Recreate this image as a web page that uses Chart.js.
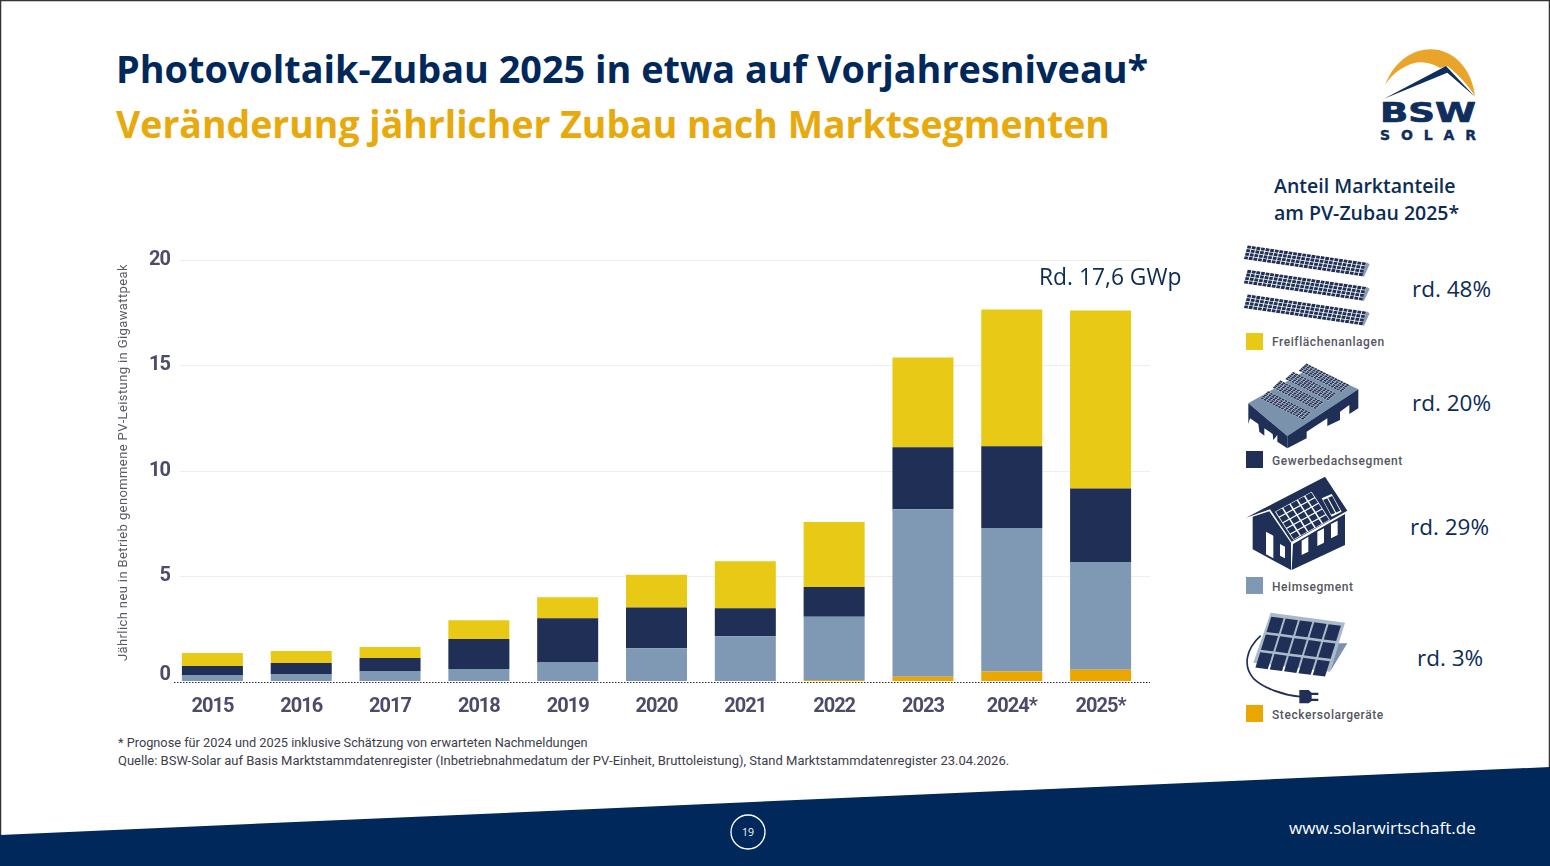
<!DOCTYPE html>
<html lang="de">
<head>
<meta charset="utf-8">
<title>Photovoltaik-Zubau</title>
<script src="https://cdn.jsdelivr.net/npm/chart.js@4"></script>
<style>
  html, body { margin: 0; padding: 0; background: #fff; }
  #slide { position: relative; width: 1550px; height: 866px; overflow: hidden; background: #fff; font-family: "Open Sans", sans-serif; }
  #art { position: absolute; left: 0; top: 0; }
  #chart { position: absolute; left: 100px; top: 240px; }
  .t { position: absolute; white-space: nowrap; line-height: 1; }
  .title { left: 116px; font-weight: 700; }
  .pct { font-size: 22.5px; color: #0b2c55; }
  .legend { left: 1272px; font: 500 12px Roboto, sans-serif; color: #55555f; letter-spacing: .57px; }
  .note { left: 118px; font: 13px Roboto, sans-serif; color: #3d3d4a; }
  .swatch { position: absolute; left: 1246px; width: 17px; height: 17px; }
</style>
</head>
<body>
<div id="slide">
  <svg id="art" width="1550" height="866" viewBox="0 0 1550 866">
    <rect x="0.5" y="0.5" width="1549" height="900" fill="none" stroke="#333" stroke-width="1.5"/>
    <polygon points="0,835 1550,767 1550,866 0,866" fill="#00285a"/>
    <circle cx="748" cy="832" r="17" fill="none" stroke="#fff" stroke-width="1.3"/>
    <text x="748" y="836" font-family="Open Sans" font-size="10.5" fill="#fff" text-anchor="middle">19</text>

    <!-- logo -->
    <g transform="translate(1360 40) scale(.3333)">
      <path d="M75,135 C105,60 160,28 212,28 C280,28 335,85 345,168 C320,130 290,100 262,78 L240,84 C215,68 185,62 160,70 C125,80 95,105 75,135 Z" fill="#e9a52a"/>
      <path d="M72,176 L258,78 L345,170 L262,98 Z" fill="#0f2e5c"/>
    </g>
    <text x="1380" y="122" font-family="DejaVu Sans" font-weight="700" font-size="26" fill="#0f2e5c" stroke="#0f2e5c" stroke-width=".7" textLength="96" lengthAdjust="spacingAndGlyphs">BSW</text>
    <text x="1380" y="140" font-family="DejaVu Sans" font-weight="700" font-size="14" fill="#0f2e5c" stroke="#0f2e5c" stroke-width=".4" textLength="96">SOLAR</text>

    <!-- building -->
    <g transform="translate(1230 230) scale(.3333)">
      <polygon points="55,520 245,412 385,478 172,618" fill="#7b92ad"/>
      <polygon points="55,520 172,618 172,655 142,635 142,615 130,630 128,612 103,595 103,617 88,605 85,582 60,565 55,582" fill="#1f2f55"/>
      <polygon points="172,618 385,478 385,535 358,552 358,525 330,545 330,570 292,588 292,565 230,605 230,625 172,655" fill="#1f2f55"/>
      <g id="roofPanels"></g>
      <g id="fieldPanels"></g>
    </g>

    <!-- house -->
    <g transform="translate(1230 470) scale(.3333)">
      <polygon points="48,143 285,20 352,122 185,215 120,118" fill="#1f2f55"/>
      <polygon points="68,140 118,124 183,218 183,300 68,238" fill="#1f2f55"/>
      <polygon points="189,222 345,132 345,225 185,300" fill="#1f2f55"/>
      <g id="housePanels"></g>
      <g fill="#fff">
        <polygon points="108,185 130,197 130,265 108,253"/>
        <polygon points="150,222 165,230 165,265 150,257"/>
        <polygon points="215,212 235,200 235,245 215,255"/>
        <polygon points="262,185 282,175 282,218 262,228"/>
        <polygon points="303,162 323,152 323,195 303,205"/>
      </g>
    </g>

    <!-- balcony module -->
    <g transform="translate(1230 470) scale(.3333)">
      <polygon points="325,520 352,520 300,605" fill="#7b92ad"/>
      <polygon points="122,428 345,458 300,605 70,578" fill="#a9bacb"/>
      <g id="plugPanels"></g>
      <path d="M92,497 C45,540 40,590 70,625 C100,655 160,675 210,680" fill="none" stroke="#1f2f55" stroke-width="5"/>
      <path d="M208,660 L236,660 L245,668 L265,668 L265,675 L245,675 L245,686 L265,686 L265,693 L245,693 L236,700 L208,700 Z" fill="#1f2f55"/>
    </g>
  </svg>

  <div class="t title" style="top:50px;font-size:37.8px;color:#00285a">Photovoltaik-Zubau 2025 in etwa auf Vorjahresniveau*</div>
  <div class="t title" style="top:105px;font-size:37.4px;color:#e8a90c">Veränderung jährlicher Zubau nach Marktsegmenten</div>

  <canvas id="chart" width="1060" height="480"></canvas>

  <div class="t" style="left:1039px;top:266px;font-size:22.8px;color:#0b2c55">Rd. 17,6 GWp</div>

  <div class="t" style="left:1274px;top:176px;font-size:19.5px;font-weight:600;color:#0b2c55">Anteil Marktanteile</div>
  <div class="t" style="left:1274px;top:203px;font-size:19.5px;font-weight:600;color:#0b2c55">am PV-Zubau 2025*</div>

  <div class="t pct" style="left:1412px;top:278px">rd. 48%</div>
  <div class="t pct" style="left:1412px;top:392px">rd. 20%</div>
  <div class="t pct" style="left:1410px;top:516px">rd. 29%</div>
  <div class="t pct" style="left:1417px;top:647px">rd. 3%</div>

  <div class="swatch" style="top:333px;background:#e8ca16"></div>
  <div class="t legend" style="top:335px">Freiflächenanlagen</div>
  <div class="swatch" style="top:451px;background:#1f2f55"></div>
  <div class="t legend" style="top:454px">Gewerbedachsegment</div>
  <div class="swatch" style="top:577px;background:#7f99b5"></div>
  <div class="t legend" style="top:580px">Heimsegment</div>
  <div class="swatch" style="top:705px;background:#eba600"></div>
  <div class="t legend" style="top:708px">Steckersolargeräte</div>

  <div class="t note" style="top:735px;font-size:12.75px">* Prognose für 2024 und 2025 inklusive Schätzung von erwarteten Nachmeldungen</div>
  <div class="t note" style="top:753px">Quelle: BSW-Solar auf Basis Marktstammdatenregister (Inbetriebnahmedatum der PV-Einheit, Bruttoleistung), Stand Marktstammdatenregister 23.04.2026.</div>

  <div class="t" style="left:1289px;top:819px;font-size:17.1px;color:#fff">www.solarwirtschaft.de</div>
</div>

<script>
const categories = ['2015', '2016', '2017', '2018', '2019', '2020', '2021', '2022', '2023', '2024*', '2025*'];
const stecker   = [0, 0, 0, 0, 0, 0, 0, 0.05, 0.2, 0.45, 0.53];
const heim      = [0.28, 0.33, 0.47, 0.57, 0.9, 1.55, 2.13, 3.0, 7.96, 6.8, 5.12];
const gewerbe   = [0.43, 0.52, 0.62, 1.42, 2.08, 1.94, 1.33, 1.42, 2.94, 3.9, 3.5];
const freiflaeche = [0.62, 0.57, 0.52, 0.9, 1.0, 1.56, 2.23, 3.08, 4.27, 6.5, 8.45];
const yAxisTitle = 'Jährlich neu in Betrieb genommene PV-Leistung in Gigawattpeak';

// panel grid helper for the icons
function panelGrid(parent, o, u, v, cols, rows, gap, fill) {
  const ns = 'http://www.w3.org/2000/svg';
  for (let c = 0; c < cols; c++) {
    for (let r = 0; r < rows; r++) {
      const pt = (a, b) => {
        const x = o[0] + u[0] * (c + a) / cols + v[0] * (r + b) / rows;
        const y = o[1] + u[1] * (c + a) / cols + v[1] * (r + b) / rows;
        return x.toFixed(1) + ',' + y.toFixed(1);
      };
      const p = document.createElementNS(ns, 'polygon');
      p.setAttribute('points', [pt(gap, gap), pt(1 - gap, gap), pt(1 - gap, 1 - gap), pt(gap, 1 - gap)].join(' '));
      p.setAttribute('fill', fill);
      parent.appendChild(p);
    }
  }
}

const navy = '#1f2f55';
const field = document.getElementById('fieldPanels');
[[52, 45], [52, 118], [52, 192]].forEach(o => {
  const edge = document.createElementNS('http://www.w3.org/2000/svg', 'polygon');
  edge.setAttribute('points', `${o[0] + 358},${o[1] + 52} ${o[0] + 367},${o[1] + 58} ${o[0] + 350},${o[1] + 95} ${o[0] + 343},${o[1] + 93}`);
  edge.setAttribute('fill', '#8b9db5');
  field.appendChild(edge);
  panelGrid(field, o, [358, 52], [-12, 43], 26, 4, .1, navy);
});
const roof = document.getElementById('roofPanels');
[[90, 505], [127, 473], [165, 447], [205, 422]].forEach(o => {
  const bg = document.createElementNS('http://www.w3.org/2000/svg', 'polygon');
  bg.setAttribute('points', `${o[0]},${o[1]} ${o[0] + 130},${o[1] + 65} ${o[0] + 154},${o[1] + 43} ${o[0] + 24},${o[1] - 22}`);
  bg.setAttribute('fill', '#dfe5ec');
  roof.appendChild(bg);
  panelGrid(roof, o, [130, 65], [24, -22], 15, 5, .1, navy);
});
const house = document.getElementById('housePanels');
const houseBg = document.createElementNS('http://www.w3.org/2000/svg', 'polygon');
houseBg.setAttribute('points', '135,125 245,65 300,150 190,210');
houseBg.setAttribute('fill', '#fff');
house.appendChild(houseBg);
panelGrid(house, [135, 125], [110, -60], [55, 85], 5, 5, .09, navy);
const houseBg2 = document.createElementNS('http://www.w3.org/2000/svg', 'polygon');
houseBg2.setAttribute('points', '275,85 305,72 335,125 305,140');
houseBg2.setAttribute('fill', '#fff');
house.appendChild(houseBg2);
panelGrid(house, [275, 85], [30, -13], [30, 55], 2, 1, .1, navy);
panelGrid(document.getElementById('plugPanels'), [122, 436], [215, 28], [-50, 160], 5, 3, .07, navy);

// light rules that run past the bars on both sides, dotted base line on top
const chartLines = {
  id: 'chartLines',
  afterLayout(chart) {
    // y labels overhang the plot by a couple of pixels
    chart.scales.y.right += 2;
  },
  beforeDraw(chart) {
    // tick numerals are set tight
    chart.ctx.letterSpacing = '-1px';
  },
  beforeDatasetsDraw(chart) {
    const { ctx, scales: { y } } = chart;
    ctx.letterSpacing = '0px';
    ctx.save();
    ctx.strokeStyle = '#eeeeee';
    ctx.lineWidth = 1;
    y.ticks.forEach(tick => {
      if (tick.value === 0) return;
      const py = Math.round(y.getPixelForValue(tick.value)) + 0.5;
      ctx.beginPath();
      ctx.moveTo(80, py);
      ctx.lineTo(1050, py);
      ctx.stroke();
    });
    ctx.restore();
  },
  afterDatasetsDraw(chart) {
    const { ctx, scales: { y } } = chart;
    const py = Math.round(y.getPixelForValue(0)) + 1.5;
    ctx.save();
    ctx.strokeStyle = '#2b2b3a';
    ctx.lineWidth = 1.2;
    ctx.setLineDash([1.5, 1.5]);
    ctx.beginPath();
    ctx.moveTo(74, py);
    ctx.lineTo(1050, py);
    ctx.stroke();
    ctx.setLineDash([]);
    // axis title sits a little above the middle of the scale
    ctx.translate(24, 222.5);
    ctx.rotate(-Math.PI / 2);
    ctx.font = '13px Roboto';
    ctx.letterSpacing = '0.39px';
    ctx.fillStyle = '#5a5a66';
    ctx.textAlign = 'center';
    ctx.textBaseline = 'middle';
    ctx.fillText(yAxisTitle, 0, 0);
    ctx.restore();
  }
};

const tickColor = '#4c4c6a';
const tickFont = { family: 'Roboto', size: 20, weight: 'bold', lineHeight: '12px' };

new Chart(document.getElementById('chart').getContext('2d'), {
  type: 'bar',
  data: {
    labels: categories,
    datasets: [
      { label: 'Steckersolargeräte', data: stecker, backgroundColor: '#eba600' },
      { label: 'Heimsegment', data: heim, backgroundColor: '#7f99b5' },
      { label: 'Gewerbedachsegment', data: gewerbe, backgroundColor: navy },
      { label: 'Freiflächenanlagen', data: freiflaeche, backgroundColor: '#e8ca16' }
    ]
  },
  options: {
    responsive: false,
    animation: false,
    layout: { padding: { top: 20, right: 15, bottom: 0, left: 0 } },
    plugins: { legend: { display: false }, tooltip: { enabled: false } },
    datasets: { bar: { barPercentage: 0.687, categoryPercentage: 1 } },
    scales: {
      x: {
        stacked: true,
        grid: { display: false },
        border: { display: false },
        ticks: { color: tickColor, font: tickFont, padding: 12, maxRotation: 0, autoSkip: false },
        afterFit(scale) { scale.height = 39; }
      },
      y: {
        stacked: true,
        min: 0,
        max: 20,
        grid: { display: false, drawTicks: false },
        border: { display: false },
        ticks: {
          stepSize: 5,
          color: tickColor,
          font: tickFont,
          padding: 0,
          // the zero is lifted clear of the dotted base line
          callback: v => (v === 0 ? ['0', ''] : v)
        },
        afterFit(scale) { scale.width = 68; }
      }
    }
  },
  plugins: [chartLines]
});
</script>
</body>
</html>
